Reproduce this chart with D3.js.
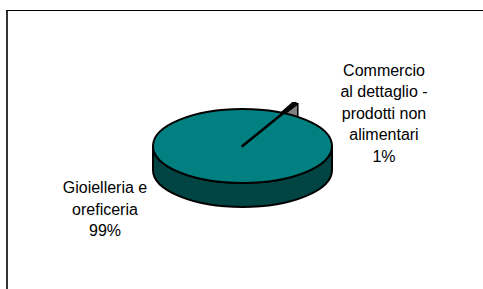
<!DOCTYPE html>
<html>
<head>
<meta charset="utf-8">
<script src="https://cdn.jsdelivr.net/npm/d3@7"></script>
<style>
  html, body { margin: 0; padding: 0; background: #fff; }
  svg { display: block; font-family: "Liberation Sans", Arial, sans-serif; }
</style>
</head>
<body>
<svg id="chart" width="483" height="289"></svg>
<script>
// ---- data ----
const categories = ["Gioielleria e oreficeria", "Commercio al dettaglio - prodotti non alimentari"];
const values = [99, 1];
const percentLabels = ["99%", "1%"];
const labelLines = [["Gioielleria e", "oreficeria"], ["Commercio", "al dettaglio -", "prodotti non", "alimentari"]];

// ---- styles / layout ----
const topColors = ["#008080", "#8a8a8a"];
const sideColors = ["#004444", "#808080"];
const explode = [0, 0.3];
const cx = 242.5, cy = 146, rx = 89.5, ry = 37, depth = 24;
const startDeg = 28.8;

const svg = d3.select("#chart");

// frame
svg.append("line").attr("x1", 7).attr("y1", 10).attr("x2", 7).attr("y2", 289)
  .attr("stroke", "#333").attr("stroke-width", 2);
svg.append("line").attr("x1", 6).attr("y1", 10.5).attr("x2", 483).attr("y2", 10.5)
  .attr("stroke", "#000").attr("stroke-width", 1);

const pie = d3.pie().sort(null)
  .startAngle(startDeg * Math.PI / 180)
  .endAngle(startDeg * Math.PI / 180 + 2 * Math.PI);
const arcs = pie(values).map((d, i) => {
  const mid = (d.startAngle + d.endAngle) / 2;
  const e = explode[i];
  d.mid = mid;
  d.ox = e * rx * Math.sin(mid);
  d.oy = -e * ry * Math.cos(mid);
  d.i = i;
  return d;
});

function pt(d, a, dz) {
  return [cx + d.ox + rx * Math.sin(a), cy + d.oy - ry * Math.cos(a) + (dz || 0)];
}
function topPath(d) {
  const p0 = pt(d, d.startAngle), p1 = pt(d, d.endAngle);
  const large = (d.endAngle - d.startAngle) > Math.PI ? 1 : 0;
  return `M${cx + d.ox},${cy + d.oy}L${p0}A${rx},${ry} 0 ${large} 1 ${p1}Z`;
}
function sidePath(d) {
  const TAU = 2 * Math.PI;
  let parts = [];
  for (let k = -1; k <= 1; k++) {
    const lo = Math.PI / 2 + k * TAU, hi = 3 * Math.PI / 2 + k * TAU;
    const a0 = Math.max(lo, d.startAngle), a1 = Math.min(hi, d.endAngle);
    if (a1 > a0) {
      const p0 = pt(d, a0), p1 = pt(d, a1), q1 = pt(d, a1, depth), q0 = pt(d, a0, depth);
      parts.push(`M${p0}A${rx},${ry} 0 0 1 ${p1}L${q1}A${rx},${ry} 0 0 0 ${q0}Z`);
    }
  }
  return parts.join("");
}
function endWallPath(d) {
  const c = [cx + d.ox, cy + d.oy], cb = [cx + d.ox, cy + d.oy + depth];
  const p = pt(d, d.endAngle), q = pt(d, d.endAngle, depth);
  return `M${c}L${p}L${q}L${cb}Z`;
}

const g = svg.append("g");
const exploded = arcs.filter(d => explode[d.i] > 0);
const main = arcs.filter(d => explode[d.i] === 0);
exploded.forEach(d => {
  g.append("path").attr("d", endWallPath(d)).attr("fill", sideColors[d.i])
    .attr("stroke", "#000").attr("stroke-width", 1.5).attr("stroke-linejoin", "round");
  g.append("path").attr("d", topPath(d)).attr("fill", topColors[d.i])
    .attr("stroke", "#000").attr("stroke-width", 1.5).attr("stroke-linejoin", "round");
});
main.forEach(d => {
  const side = sidePath(d);
  if (side) g.append("path").attr("d", side).attr("fill", sideColors[d.i])
    .attr("stroke", "#000").attr("stroke-width", 2).attr("stroke-linejoin", "round");
  g.append("ellipse").attr("cx", cx).attr("cy", cy).attr("rx", rx).attr("ry", ry)
    .attr("fill", topColors[d.i]).attr("stroke", "#000").attr("stroke-width", 2);
});
exploded.forEach(d => {
  const tip = pt(d, d.mid);
  g.append("line").attr("x1", cx).attr("y1", cy).attr("x2", tip[0]).attr("y2", tip[1])
    .attr("stroke", "#000").attr("stroke-width", 2.6).attr("stroke-linecap", "round");
});

// labels
const labelPos = [{x: 105, y: 193}, {x: 384, y: 75.5}];
const lh = 21.5;
arcs.forEach((d, i) => {
  const lines = labelLines[i].concat([percentLabels[i]]);
  const t = svg.append("text").attr("text-anchor", "middle")
    .attr("font-size", 16).attr("fill", "#000");
  lines.forEach((s, j) => {
    t.append("tspan").attr("x", labelPos[i].x).attr("y", labelPos[i].y + j * lh).text(s);
  });
});
</script>
</body>
</html>
